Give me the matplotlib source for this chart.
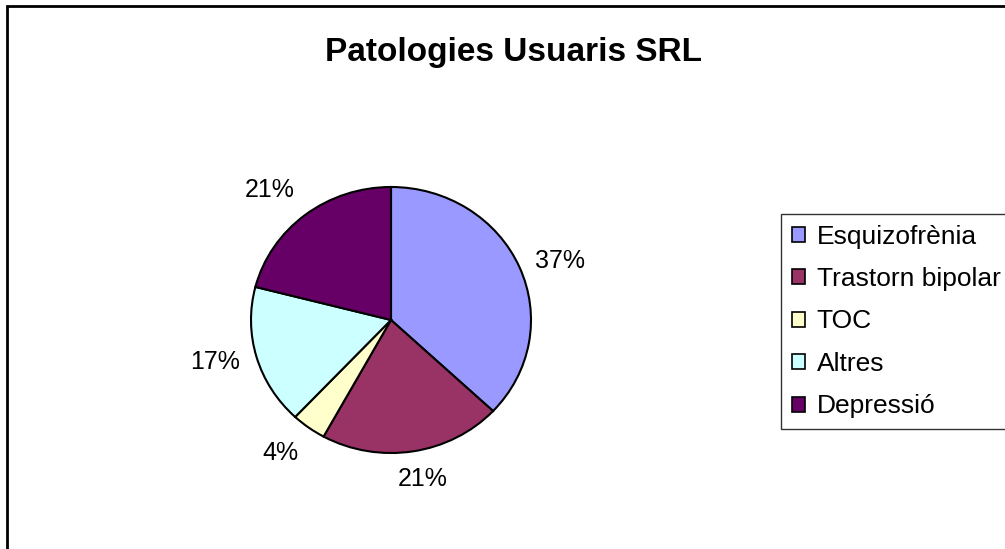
import matplotlib
matplotlib.use("Agg")
import numpy as np
import matplotlib.pyplot as plt
from matplotlib.patches import Rectangle

plt.rcParams['font.family'] = ['Liberation Sans', 'DejaVu Sans']

title = "Patologies Usuaris SRL"
categories = ["Esquizofrènia", "Trastorn bipolar", "TOC", "Altres", "Depressió"]
values = [37, 21, 4, 17, 21]
colors = ["#9999FF", "#993366", "#FFFFCC", "#CCFFFF", "#660066"]

W, H = 1005, 549
fig = plt.figure(figsize=(W / 100, H / 100), dpi=100)

# outer chart border
fig.patches.append(Rectangle((7 / W, -0.05), 1.2, 1 - 6 / H + 0.05,
                             transform=fig.transFigure, fill=False,
                             edgecolor="black", linewidth=2))

cx, cy, rx, ry = 391, 320, 140, 133
ax = fig.add_axes([(cx - rx) / W, 1 - (cy + ry) / H, 2 * rx / W, 2 * ry / H])
wedges, texts = ax.pie(
    values, colors=colors, startangle=90, counterclock=False,
    wedgeprops=dict(edgecolor="black", linewidth=1.5))
ax.set_aspect('auto')
ax.set_xlim(-1, 1)
ax.set_ylim(-1, 1)
ax.axis('off')

total = sum(values)
for w, v in zip(wedges, values):
    ang = np.deg2rad((w.theta1 + w.theta2) / 2)
    c, s = np.cos(ang), np.sin(ang)
    ha = 'left' if c > 0.3 else ('right' if c < -0.3 else 'center')
    va = 'bottom' if s > 0.5 else ('top' if s < -0.5 else 'center')
    d = 1.12
    ax.text(d * c + (0.05 if ha == 'center' else 0), d * s,
            f"{round(100 * v / total)}%", ha=ha, va=va,
            fontsize=18, clip_on=False)

fig.text(513 / W, 1 - 52 / H, title, ha='center', va='center',
         fontsize=24, fontweight='bold')

leg = fig.legend(wedges, categories, loc='upper left',
                 bbox_to_anchor=(781 / W, 1 - 214 / H),
                 fontsize=19, frameon=True, fancybox=False,
                 edgecolor='black', borderaxespad=0, borderpad=0.4,
                 labelspacing=0.7, handlelength=0.5, handleheight=0.5,
                 handletextpad=0.45)
leg.get_frame().set_linewidth(1.0)
for h in leg.legend_handles:
    h.set_linewidth(1.2)

fig.savefig("out.png", dpi=100)
